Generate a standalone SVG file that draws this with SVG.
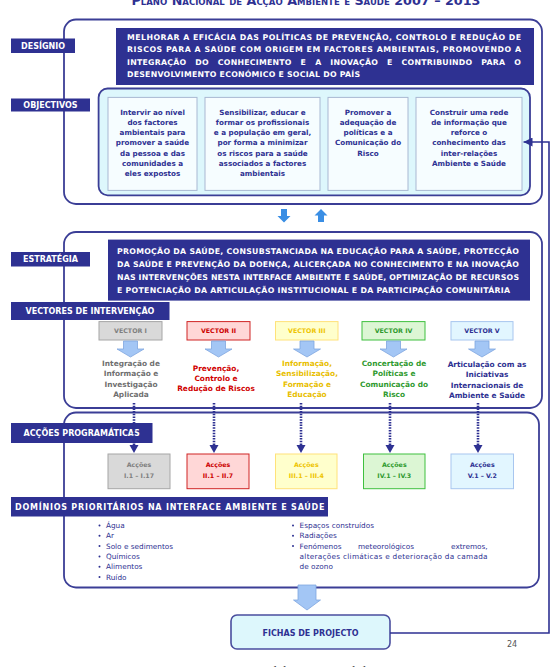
<svg xmlns="http://www.w3.org/2000/svg" width="556" height="667" viewBox="0 0 556 667">
<defs>
<style>
.b{font-family:"DejaVu Sans","Liberation Sans",sans-serif;font-weight:bold}
.r{font-family:"DejaVu Sans","Liberation Sans",sans-serif}
.outer{fill:#fff;stroke:#3b3e96;stroke-width:1.8}
.navy{fill:#2e3192}
.lbl{fill:#fff;font-size:8px}
.cap{fill:#fff;font-size:7.8px}
.obj{fill:#2e3192;font-size:7.2px;text-anchor:middle}
.ibox{fill:#f6fdff;stroke:#a9b8d2;stroke-width:1}
.vb{font-size:6.3px;text-anchor:middle}
.vd{font-size:7.4px;text-anchor:middle}
.ab{font-size:6.3px;text-anchor:middle}
.blk{fill:#a3c6f5;stroke:#7fa6df;stroke-width:0.8}
.dom{fill:#2e3192;font-size:7.3px}
.dot{stroke:#2e3192;stroke-width:2.6;stroke-dasharray:1.5 1.2;fill:none}
</style>
<marker id="ah" viewBox="0 0 10 10" refX="10" refY="5" markerWidth="9" markerHeight="9" markerUnits="userSpaceOnUse" orient="auto">
<path d="M0,0 L10,5 L0,10 z" fill="#2e3192"/>
</marker>
</defs>
<rect width="556" height="667" fill="#fff"/>

<text class="b" x="306" y="5" font-size="12" font-variant="small-caps" fill="#2e3192" text-anchor="middle" textLength="349" lengthAdjust="spacingAndGlyphs">Plano Nacional de Acção Ambiente e Saúde 2007 – 2013</text>

<g id="frame-top">
<rect class="outer" x="64" y="19.5" width="478" height="184.5" rx="12"/>
</g>
<g id="frame-estrategia">
<rect class="outer" x="64" y="232" width="478" height="176" rx="12"/>
</g>
<g id="frame-accoes">
<rect class="outer" x="64" y="412.5" width="475" height="175" rx="12"/>
</g>

<g id="designio">
<rect class="navy" x="11" y="38.5" width="64" height="14.5"/>
<text class="b lbl" x="43" y="48.8" text-anchor="middle">DESÍGNIO</text>
<rect class="navy" x="116" y="28" width="418" height="57"/>
<text class="b cap" x="127" y="39.5" textLength="394" lengthAdjust="spacing">MELHORAR A EFICÁCIA DAS POLÍTICAS DE PREVENÇÃO, CONTROLO E REDUÇÃO DE</text>
<text class="b cap" x="127" y="52" textLength="394" lengthAdjust="spacing">RISCOS PARA A SAÚDE COM ORIGEM EM FACTORES AMBIENTAIS, PROMOVENDO A</text>
<text class="b cap" x="127" y="64.5" word-spacing="6" textLength="394" lengthAdjust="spacing">INTEGRAÇÃO DO CONHECIMENTO E A INOVAÇÃO E CONTRIBUINDO PARA O</text>
<text class="b cap" x="127" y="77" textLength="233" lengthAdjust="spacing">DESENVOLVIMENTO ECONÓMICO E SOCIAL DO PAÍS</text>
</g>

<g id="objectivos">
<rect class="navy" x="11" y="98.5" width="79" height="13"/>
<text class="b lbl" x="50.5" y="108.2" text-anchor="middle">OBJECTIVOS</text>
<rect x="98.6" y="88.5" width="431.4" height="106.8" rx="9" fill="#ddf7fc" stroke="#3b3e96" stroke-width="1.8"/>
</g>
<g id="obj1">
<rect class="ibox" x="108" y="97.4" width="89" height="93"/>
<text class="b obj" x="152.5" y="114.5">Intervir ao nível</text>
<text class="b obj" x="152.5" y="124.8">dos factores</text>
<text class="b obj" x="152.5" y="135.1">ambientais para</text>
<text class="b obj" x="152.5" y="145.4">promover a saúde</text>
<text class="b obj" x="152.5" y="155.7">da pessoa e das</text>
<text class="b obj" x="152.5" y="166">comunidades a</text>
<text class="b obj" x="152.5" y="176.3">eles expostos</text>
</g>
<g id="obj2">
<rect class="ibox" x="205" y="97.4" width="115" height="93"/>
<text class="b obj" x="262.5" y="114.5">Sensibilizar, educar e</text>
<text class="b obj" x="262.5" y="124.8">formar os profissionais</text>
<text class="b obj" x="262.5" y="135.1">e a população em geral,</text>
<text class="b obj" x="262.5" y="145.4">por forma a minimizar</text>
<text class="b obj" x="262.5" y="155.7">os riscos para a saúde</text>
<text class="b obj" x="262.5" y="166">associados a factores</text>
<text class="b obj" x="262.5" y="176.3">ambientais</text>
</g>
<g id="obj3">
<rect class="ibox" x="328" y="97.4" width="80" height="93"/>
<text class="b obj" x="368" y="114.5">Promover a</text>
<text class="b obj" x="368" y="124.8">adequação de</text>
<text class="b obj" x="368" y="135.1">políticas e a</text>
<text class="b obj" x="368" y="145.4">Comunicação do</text>
<text class="b obj" x="368" y="155.7">Risco</text>
</g>
<g id="obj4">
<rect class="ibox" x="416" y="97.4" width="106" height="93"/>
<text class="b obj" x="469" y="114.5">Construir uma rede</text>
<text class="b obj" x="469" y="124.8">de informação que</text>
<text class="b obj" x="469" y="135.1">reforce o</text>
<text class="b obj" x="469" y="145.4">conhecimento das</text>
<text class="b obj" x="469" y="155.7">inter-relações</text>
<text class="b obj" x="469" y="166">Ambiente e Saúde</text>
</g>

<g id="flow-arrows">
<path d="M281,209 h6 v7 h3.5 l-6.5,6.5 l-6.5,-6.5 h3.5 z" fill="#3a8ee4"/>
<path d="M321,209 l6.5,6.5 h-3.5 v6.5 h-6 v-6.5 h-3.5 z" fill="#3a8ee4"/>
</g>

<g id="estrategia">
<rect class="navy" x="11" y="252" width="79" height="14.5"/>
<text class="b lbl" x="50.5" y="262.3" text-anchor="middle">ESTRATÉGIA</text>
<rect class="navy" x="108" y="239.6" width="422" height="61"/>
<text class="b cap" x="117" y="254" textLength="402" lengthAdjust="spacing">PROMOÇÃO DA SAÚDE, CONSUBSTANCIADA NA EDUCAÇÃO PARA A SAÚDE, PROTECÇÃO</text>
<text class="b cap" x="117" y="267" textLength="402" lengthAdjust="spacing">DA SAÚDE E PREVENÇÃO DA DOENÇA, ALICERÇADA NO CONHECIMENTO E NA INOVAÇÃO</text>
<text class="b cap" x="117" y="280" textLength="402" lengthAdjust="spacing">NAS INTERVENÇÕES NESTA INTERFACE AMBIENTE E SAÚDE, OPTIMIZAÇÃO DE RECURSOS</text>
<text class="b cap" x="117" y="293" textLength="393" lengthAdjust="spacing">E POTENCIAÇÃO DA ARTICULAÇÃO INSTITUCIONAL E DA PARTICIPAÇÃO COMUNITÁRIA</text>
</g>

<g id="vectores-label">
<rect class="navy" x="11" y="302" width="158.5" height="18"/>
<text class="b lbl" x="90" y="314" text-anchor="middle" font-size="8.2">VECTORES DE INTERVENÇÃO</text>
</g>

<g id="vector1">
<rect x="99" y="321.6" width="63" height="18.4" fill="#d9d9d9" stroke="#a6a6a6" stroke-width="1"/>
<text class="b vb" x="130.5" y="333.3" fill="#7f7f7f">VECTOR I</text>
<path class="blk" d="M123.5,341 h14 v8 h6.5 l-13.5,8 l-13.5,-8 h6.5 z"/>
<text class="b vd" fill="#6f6f6f" x="131" y="366">Integração de</text>
<text class="b vd" fill="#6f6f6f" x="131" y="376.3">Informação e</text>
<text class="b vd" fill="#6f6f6f" x="131" y="386.6">Investigação</text>
<text class="b vd" fill="#6f6f6f" x="131" y="396.9">Aplicada</text>
</g>
<g id="vector2">
<rect x="187" y="321.6" width="63" height="18.4" fill="#ffd7d7" stroke="#d02424" stroke-width="1"/>
<text class="b vb" x="218.5" y="333.3" fill="#cc0000">VECTOR II</text>
<path class="blk" d="M211.5,341 h14 v8 h6.5 l-13.5,8 l-13.5,-8 h6.5 z"/>
<text class="b vd" fill="#d00000" x="216" y="370.5">Prevenção,</text>
<text class="b vd" fill="#d00000" x="216" y="380.8">Controlo e</text>
<text class="b vd" fill="#d00000" x="216" y="391.1">Redução de Riscos</text>
</g>
<g id="vector3">
<rect x="275.5" y="321.6" width="62.5" height="18.4" fill="#ffffcc" stroke="#ffe27a" stroke-width="1"/>
<text class="b vb" x="306.8" y="333.3" fill="#eec400">VECTOR III</text>
<path class="blk" d="M300,341 h14 v8 h6.5 l-13.5,8 l-13.5,-8 h6.5 z"/>
<text class="b vd" fill="#e8be00" x="307" y="366">Informação,</text>
<text class="b vd" fill="#e8be00" x="307" y="376.3">Sensibilização,</text>
<text class="b vd" fill="#e8be00" x="307" y="386.6">Formação e</text>
<text class="b vd" fill="#e8be00" x="307" y="396.9">Educação</text>
</g>
<g id="vector4">
<rect x="362" y="321.6" width="63" height="18.4" fill="#dcf6d4" stroke="#3fc03f" stroke-width="1"/>
<text class="b vb" x="393.5" y="333.3" fill="#2f9a2f">VECTOR IV</text>
<path class="blk" d="M386.5,341 h14 v8 h6.5 l-13.5,8 l-13.5,-8 h6.5 z"/>
<text class="b vd" fill="#2f9a2f" x="394" y="366">Concertação de</text>
<text class="b vd" fill="#2f9a2f" x="394" y="376.3">Políticas e</text>
<text class="b vd" fill="#2f9a2f" x="394" y="386.6">Comunicação do</text>
<text class="b vd" fill="#2f9a2f" x="394" y="396.9">Risco</text>
</g>
<g id="vector5">
<rect x="451" y="321.6" width="62" height="18.4" fill="#e2f6ff" stroke="#a8c6ef" stroke-width="1"/>
<text class="b vb" x="482" y="333.3" fill="#2e3192">VECTOR V</text>
<path class="blk" d="M475,341 h14 v8 h6.5 l-13.5,8 l-13.5,-8 h6.5 z"/>
<text class="b vd" fill="#2e3192" x="487" y="366.5">Articulação com as</text>
<text class="b vd" fill="#2e3192" x="487" y="377">Iniciativas</text>
<text class="b vd" fill="#2e3192" x="487" y="387.5">Internacionais de</text>
<text class="b vd" fill="#2e3192" x="487" y="398">Ambiente e Saúde</text>
</g>

<g id="accoes-label">
<rect class="navy" x="11" y="423" width="141.5" height="20"/>
<text class="b lbl" x="81.7" y="436" text-anchor="middle" font-size="8.2">ACÇÕES PROGRAMÁTICAS</text>
</g>
<g id="accao1">
<rect x="108" y="454" width="62" height="34.7" fill="#d9d9d9" stroke="#a6a6a6" stroke-width="1"/>
<text class="b ab" fill="#7f7f7f" x="139" y="466.5">Acções</text>
<text class="b ab" fill="#7f7f7f" x="139" y="477.5">I.1 – I.17</text>
</g>
<g id="accao2">
<rect x="187" y="454" width="62" height="34.7" fill="#ffd7d7" stroke="#d02424" stroke-width="1"/>
<text class="b ab" fill="#cc0000" x="218" y="466.5">Acções</text>
<text class="b ab" fill="#cc0000" x="218" y="477.5">II.1 – II.7</text>
</g>
<g id="accao3">
<rect x="275.5" y="454" width="61.5" height="34.7" fill="#ffffcc" stroke="#ffe27a" stroke-width="1"/>
<text class="b ab" fill="#eec400" x="306.3" y="466.5">Acções</text>
<text class="b ab" fill="#eec400" x="306.3" y="477.5">III.1 – III.4</text>
</g>
<g id="accao4">
<rect x="363.5" y="454" width="61.5" height="34.7" fill="#dcf6d4" stroke="#3fc03f" stroke-width="1"/>
<text class="b ab" fill="#2f9a2f" x="394.3" y="466.5">Acções</text>
<text class="b ab" fill="#2f9a2f" x="394.3" y="477.5">IV.1 – IV.3</text>
</g>
<g id="accao5">
<rect x="451" y="454" width="62.5" height="34.7" fill="#e2f6ff" stroke="#a8c6ef" stroke-width="1"/>
<text class="b ab" fill="#2e3192" x="482.3" y="466.5">Acções</text>
<text class="b ab" fill="#2e3192" x="482.3" y="477.5">V.1 – V.2</text>
</g>

<g id="dominios">
<rect class="navy" x="11" y="497" width="317" height="19.5"/>
<text class="b lbl" x="15" y="509.8" textLength="309.5" lengthAdjust="spacing">DOMÍNIOS PRIORITÁRIOS NA INTERFACE AMBIENTE E SAÚDE</text>
<g fill="#2e3192">
<circle cx="99.5" cy="525.5" r="1"/><circle cx="99.5" cy="535.8" r="1"/><circle cx="99.5" cy="546.1" r="1"/>
<circle cx="99.5" cy="556.4" r="1"/><circle cx="99.5" cy="566.7" r="1"/><circle cx="99.5" cy="577" r="1"/>
<circle cx="293" cy="525.5" r="1"/><circle cx="293" cy="535.8" r="1"/><circle cx="293" cy="546.1" r="1"/>
</g>
<text class="r dom" x="106" y="528">Água</text>
<text class="r dom" x="106" y="538.3">Ar</text>
<text class="r dom" x="106" y="548.6">Solo e sedimentos</text>
<text class="r dom" x="106" y="558.9">Químicos</text>
<text class="r dom" x="106" y="569.2">Alimentos</text>
<text class="r dom" x="106" y="579.5">Ruído</text>
<text class="r dom" x="299.6" y="528">Espaços construídos</text>
<text class="r dom" x="299.6" y="538.3">Radiações</text>
<text class="r dom" x="299.6" y="548.6">Fenómenos</text>
<text class="r dom" x="386" y="548.6" text-anchor="middle">meteorológicos</text>
<text class="r dom" x="487.6" y="548.6" text-anchor="end">extremos,</text>
<text class="r dom" x="299.6" y="558.9" textLength="188" lengthAdjust="spacing">alterações climáticas e deterioração da camada</text>
<text class="r dom" x="299.6" y="569.2">de ozono</text>
</g>

<g id="fichas-arrow">
<path class="blk" d="M298,585 h18 v15 h4.5 l-13.5,10 l-13.5,-10 h4.5 z"/>
</g>
<g id="fichas">
<rect x="231" y="615" width="159" height="34" rx="6" fill="#ddf7fc" stroke="#4a4e9e" stroke-width="1.6"/>
<text class="b" x="310.5" y="636" font-size="8" fill="#2e3192" text-anchor="middle">FICHAS DE PROJECTO</text>
</g>

<g id="connectors">
<line class="dot" x1="134" y1="403" x2="134" y2="447"/>
<line class="dot" x1="214" y1="403" x2="214" y2="447"/>
<line class="dot" x1="301" y1="403" x2="301" y2="447"/>
<line class="dot" x1="390" y1="403" x2="390" y2="447"/>
<line class="dot" x1="478" y1="403" x2="478" y2="447"/>
<path d="M134,445 l4.5,0 l-4.5,8 l-4.5,-8 z M214,445 l4.5,0 l-4.5,8 l-4.5,-8 z M301,445 l4.5,0 l-4.5,8 l-4.5,-8 z M390,445 l4.5,0 l-4.5,8 l-4.5,-8 z M478,445 l4.5,0 l-4.5,8 l-4.5,-8 z" fill="#2e3192"/>
<path d="M390,633 H549 V142 H523.5" fill="none" stroke="#2e3192" stroke-width="1.6" marker-end="url(#ah)"/>
</g>

<text class="r" x="512" y="647" font-size="8" fill="#555" text-anchor="middle">24</text>
<text x="198" y="674.5" font-family="Liberation Serif, serif" font-size="13" fill="#444" textLength="222" lengthAdjust="spacing">Fig. 1.1 - Modelo conceptual do PNAAS</text>
</svg>
